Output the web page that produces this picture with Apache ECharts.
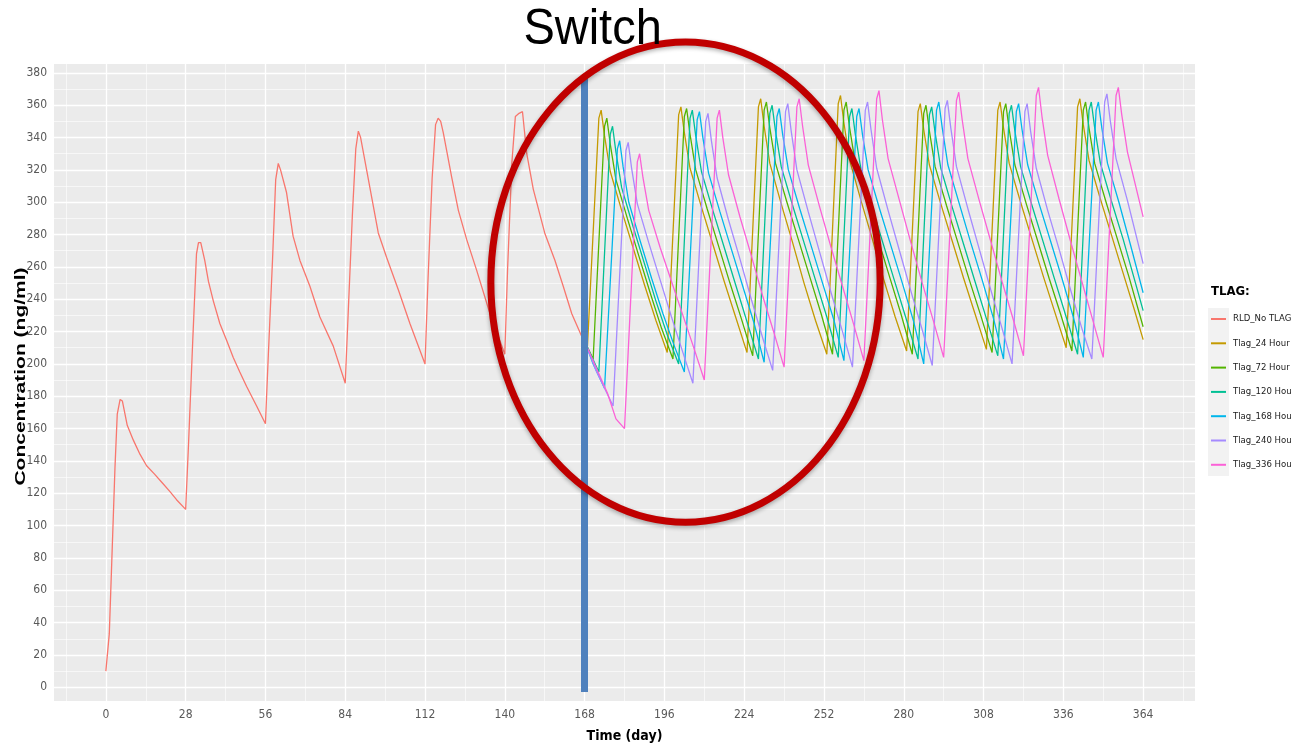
<!DOCTYPE html>
<html>
<head>
<meta charset="utf-8">
<title>TLAG switch</title>
<script src="https://cdn.jsdelivr.net/npm/echarts@6.0.0/dist/echarts.min.js"></script>
<style>
html, body { margin: 0; padding: 0; background: #fff; }
#main { width: 1291px; height: 749px; }
</style>
</head>
<body>
<div id="main"></div>
<script>
// ticks and grid lines
var xMajor = [0, 28, 56, 84, 112, 140, 168, 196, 224, 252, 280, 308, 336, 364];
var xMinor = [-14, 14, 42, 70, 98, 126, 154, 182, 210, 238, 266, 294, 322, 350, 378];
var yMajor = [0, 20, 40, 60, 80, 100, 120, 140, 160, 180, 200, 220, 240, 260, 280, 300, 320, 340, 360, 380];
var yMinor = [10, 30, 50, 70, 90, 110, 130, 150, 170, 190, 210, 230, 250, 270, 290, 310, 330, 350, 370];

var seriesNames = ['RLD_No TLAG', 'Tlag_24 Hour', 'Tlag_72 Hour', 'Tlag_120 Hour', 'Tlag_168 Hour', 'Tlag_240 Hour', 'Tlag_336 Hour'];

// [day, ng/ml]
var rld = [
  [0,10],[1.2,33],[2,74],[3.2,136],[4,169],[5,178],[5.8,177],[7.5,162],[9.6,153],[12,144],[14.3,137],[17,132],[20,126],[22.5,121],[24.8,116],[28,110],
  [29,150],[30.5,215],[31.8,268],[32.5,275],[33.3,275],[34.7,264],[36,251],[37.7,239],[40,225],[42.5,214],[44.7,204],[47,195],[49.4,186],[52.9,174],[56,163],
  [57,205],[58.5,265],[59.6,314],[60.5,324],[61.3,320],[63.4,306],[65.7,279],[68.1,264],[71.6,248],[75.1,229],[79.8,211],[84,188],
  [85,230],[86.5,292],[87.7,333],[88.6,344],[89.4,340],[91.5,320],[95.6,281],[98.5,266],[102.6,246],[106.7,225],[112,200],
  [113,250],[114.5,315],[115.7,348],[116.6,352],[117.5,350],[118.4,343],[121.3,316],[123.7,295],[126.6,277],[130.1,258],[134.8,231],[140,206],
  [141,260],[142.5,325],[143.7,353],[145,355],[146.2,356],[147.7,330],[150,308],[154,281],[157.6,264],[160.5,248],[163.5,231],[168,213]
];

var tlag24 = [
  [168,214],[169,211],
  [173,352],[173.8,357],[175,341],[177,319],[181,295],[185,272],[189,249],[193,227],
  [197,207],[201,354],[201.8,359],[203,343],[205,321],[209,297],[213,274],[217,251],[221,229],
  [225,207],[229,359],[229.8,364],[231,347],[233,324],[237,299],[241,275],[245,250],[249,227],
  [253,206],[257,361],[257.8,366],[259,349],[261,326],[265,301],[269,277],[273,252],[277,229],
  [281,208],[285,356],[285.8,361],[287,345],[289,323],[293,299],[297,276],[301,253],[305,231],
  [309,209],[313,357],[313.8,362],[315,346],[317,324],[321,300],[325,277],[329,254],[333,232],
  [337,210],[341,359],[341.8,364],[343,348],[345,326],[349,302],[353,279],[357,256],[361,233],[364,215]
];

var tlag72 = [
  [168,214],[171,203],
  [175,347],[175.8,352],[177,336],[179,314],[183,290],[187,267],[191,244],[195,222],
  [199,203],[203,353],[203.8,358],[205,342],[207,320],[211,296],[215,273],[219,250],[223,228],
  [227,205],[231,357],[231.8,362],[233,346],[235,324],[239,300],[243,277],[247,254],[251,231],
  [255,206],[259,357],[259.8,362],[261,346],[263,324],[267,300],[271,277],[275,254],[279,231],
  [283,206],[287,355],[287.8,360],[289,344],[291,322],[295,298],[299,275],[303,252],[307,230],
  [311,207],[315,356],[315.8,361],[317,345],[319,323],[323,299],[327,276],[331,253],[335,231],
  [339,208],[343,357],[343.8,362],[345,346],[347,324],[351,300],[355,277],[359,254],[364,223]
];

var tlag120 = [
  [168,214],[173,195],
  [177,342],[177.8,347],[179,331],[181,309],[185,285],[189,262],[193,239],[197,218],
  [201,200],[205,352],[205.8,357],[207,341],[209,319],[213,295],[217,272],[221,249],[225,226],
  [229,203],[233,355],[233.8,360],[235,344],[237,322],[241,298],[245,275],[249,252],[253,229],
  [257,204],[261,353],[261.8,358],[263,342],[265,320],[269,296],[273,273],[277,250],[281,227],
  [285,203],[289,354],[289.8,359],[291,343],[293,321],[297,297],[301,274],[305,251],[309,228],
  [313,205],[317,355],[317.8,360],[319,344],[321,322],[325,298],[329,275],[333,252],[337,229],
  [341,206],[345,357],[345.8,362],[347,346],[349,324],[353,300],[357,277],[361,252],[364,233]
];

var tlag168 = [
  [168,214],[171,200],[175,185],
  [179.5,333],[180.3,338],[181.5,322],[183.5,300],[187.5,276],[191.5,253],[195.5,231],[199.5,211],
  [203,195],[207.5,351],[208.3,356],[209.5,340],[211.5,318],[215.5,294],[219.5,271],[223.5,248],[227.5,225],
  [231,201],[235.5,353],[236.3,358],[237.5,342],[239.5,320],[243.5,296],[247.5,273],[251.5,250],[255.5,227],
  [259,202],[263.5,353],[264.3,358],[265.5,342],[267.5,320],[271.5,296],[275.5,273],[279.5,250],[283.5,226],
  [287,200],[291.5,357],[292.3,362],[293.5,346],[295.5,323],[299.5,299],[303.5,275],[307.5,252],[311.5,228],
  [315,203],[319.5,356],[320.3,361],[321.5,345],[323.5,323],[327.5,299],[331.5,276],[335.5,253],[339.5,229],
  [343,204],[347.5,357],[348.3,362],[349.5,346],[351.5,324],[355.5,300],[359.5,274],[364,244]
];

var tlag240 = [
  [168,214],[172,196],[178,174],
  [182.5,332],[183.3,337],[184.5,321],[186.5,299],[190.5,275],[194.5,252],[198.5,229],[202.5,207],
  [206,188],[210.5,350],[211.3,355],[212.5,338],[214.5,315],[218.5,289],[222.5,265],[226.5,240],[230.5,216],
  [234,196],[238.5,356],[239.3,361],[240.5,344],[242.5,320],[246.5,294],[250.5,269],[254.5,244],[258.5,220],
  [262,198],[266.5,357],[267.3,362],[268.5,345],[270.5,321],[274.5,295],[278.5,270],[282.5,245],[286.5,221],
  [290,199],[294.5,358],[295.3,363],[296.5,346],[298.5,322],[302.5,296],[306.5,271],[310.5,246],[314.5,222],
  [318,200],[322.5,356],[323.3,361],[324.5,344],[326.5,321],[330.5,295],[334.5,271],[338.5,246],[342.5,222],
  [346,203],[350.5,362],[351.3,367],[352.5,350],[354.5,327],[358.5,301],[364,262]
];

var tlag336 = [
  [168,214],[172,198],[176,182],[179,166],[182,160],
  [186.5,325],[187.3,330],[188.5,315],[190.5,295],[194.5,272],[198.5,251],[202.5,230],[206.5,209],
  [210,190],[214.5,352],[215.3,357],[216.5,340],[218.5,317],[222.5,291],[226.5,267],[230.5,242],[234.5,219],
  [238,198],[242.5,359],[243.3,364],[244.5,347],[246.5,323],[250.5,297],[254.5,272],[258.5,248],[262.5,224],
  [266,202],[270.5,364],[271.3,369],[272.5,351],[274.5,327],[278.5,301],[282.5,275],[286.5,250],[290.5,226],
  [294,204],[298.5,363],[299.3,368],[300.5,351],[302.5,327],[306.5,301],[310.5,276],[314.5,251],[318.5,227],
  [322,205],[326.5,366],[327.3,371],[328.5,353],[330.5,329],[334.5,302],[338.5,276],[342.5,251],[346.5,226],
  [350,204],[354.5,366],[355.3,371],[356.5,354],[358.5,331],[364,291]
];

var seriesData = [rld, tlag24, tlag72, tlag120, tlag168, tlag240, tlag336];
var colors = ['#F8766D', '#C49A00', '#53B400', '#00C094', '#00B6EB', '#A58AFF', '#FB61D7'];

// annotation: switch day and highlighted region (data units)
var switchDay = 168;
var switchSpan = [-3, 377];
var circleCenter = [203.4, 250.6];
var circleRadius = [68.3, 148.5];

var NARROW = "'Liberation Sans Narrow','Arial Narrow','DejaVu Sans Condensed',sans-serif";
var SANS = "'Liberation Sans',Arial,sans-serif";

var gridLines = [];
yMajor.forEach(function (v) { gridLines.push({ yAxis: v, lineStyle: { width: 1.3 } }); });
yMinor.forEach(function (v) { gridLines.push({ yAxis: v, lineStyle: { width: 0.6 } }); });
xMajor.forEach(function (v) { gridLines.push({ xAxis: v, lineStyle: { width: 1.3 } }); });
xMinor.forEach(function (v) { gridLines.push({ xAxis: v, lineStyle: { width: 0.6 } }); });

var series = [{
  name: 'grid',
  type: 'line',
  data: [],
  z: 1,
  silent: true,
  markLine: {
    z: 1,
    silent: true,
    animation: false,
    symbol: ['none', 'none'],
    label: { show: false },
    emphasis: { disabled: true },
    lineStyle: { color: '#ffffff', type: 'solid' },
    data: gridLines
  }
}];

for (var i = 0; i < seriesNames.length; i++) {
  series.push({
    name: seriesNames[i],
    type: 'line',
    data: seriesData[i],
    symbol: 'none',
    z: 2 + i,
    lineStyle: { width: 1.3, color: colors[i] },
    itemStyle: { color: colors[i] }
  });
}

series.push({
  name: 'switch',
  type: 'line',
  data: [],
  z: 20,
  markLine: {
    z: 20,
    silent: true,
    animation: false,
    symbol: ['none', 'none'],
    label: { show: false },
    lineStyle: { color: '#4F81BD', width: 7, type: 'solid' },
    data: [[{ coord: [switchDay, switchSpan[0]] }, { coord: [switchDay, switchSpan[1]] }]]
  }
});

var chart = echarts.init(document.getElementById('main'));
var option = {
  animation: false,
  backgroundColor: '#ffffff',
  title: {
    text: 'TLAG:',
    left: 1211,
    top: 285,
    padding: 0,
    textStyle: { fontFamily: NARROW, fontSize: 13, fontWeight: 'bold', color: '#000' }
  },
  legend: {
    data: seriesNames,
    orient: 'vertical',
    left: 1211,
    top: 312,
    padding: 0,
    icon: 'rect',
    itemWidth: 15,
    itemHeight: 2,
    itemGap: 10.3,
    textStyle: { fontFamily: NARROW, fontSize: 9.5, lineHeight: 14, color: '#1a1a1a', padding: [0, 0, 0, 2] }
  },
  grid: {
    left: 54, right: 96, top: 64, bottom: 48,
    show: true, backgroundColor: '#EBEBEB', borderWidth: 0
  },
  xAxis: {
    type: 'value',
    min: -18.2,
    max: 382.2,
    name: 'Time (day)',
    nameLocation: 'middle',
    nameGap: 28,
    nameTextStyle: { fontFamily: NARROW, fontSize: 14, fontWeight: 'bold', color: '#000' },
    axisLine: { show: false },
    axisTick: { show: true, length: 4, customValues: xMajor, lineStyle: { color: '#333' } },
    axisLabel: { customValues: xMajor, margin: 8, fontFamily: NARROW, fontSize: 12, color: '#595959' },
    splitLine: { show: false }
  },
  yAxis: {
    type: 'value',
    min: -8.5,
    max: 385.5,
    axisLine: { show: false },
    axisTick: { show: true, length: 4, customValues: yMajor, lineStyle: { color: '#333' } },
    axisLabel: { customValues: yMajor, margin: 7, fontFamily: NARROW, fontSize: 12, color: '#595959' },
    splitLine: { show: false }
  },
  series: series
};
chart.setOption(option);

// annotations placed from data coordinates
var center = chart.convertToPixel({ gridIndex: 0 }, circleCenter);
var edge = chart.convertToPixel({ gridIndex: 0 }, [circleCenter[0] + circleRadius[0], circleCenter[1] - circleRadius[1]]);
var switchTop = chart.convertToPixel({ gridIndex: 0 }, [switchDay, switchSpan[1]]);
var plotTop = chart.convertToPixel({ gridIndex: 0 }, [0, 385.5]);
var plotMid = chart.convertToPixel({ gridIndex: 0 }, [(-18.2 + 382.2) / 2, (-8.5 + 385.5) / 2]);

chart.setOption({
  graphic: [
    {
      type: 'rect', z: 0, silent: true,
      shape: { x: 1208, y: 308, width: 21, height: 168 },
      style: { fill: '#F2F2F2' }
    },
    {
      type: 'ellipse', z: 100, silent: true,
      shape: { cx: center[0], cy: center[1], rx: edge[0] - center[0], ry: edge[1] - center[1] },
      style: { fill: 'none', stroke: '#C00000', lineWidth: 7, shadowBlur: 4, shadowColor: 'rgba(0,0,0,0.3)', shadowOffsetY: 2 }
    },
    {
      type: 'text', z: 100, silent: true,
      x: switchTop[0] + 8, y: plotTop[1] - 34, scaleY: 1.06,
      style: { text: 'Switch', font: '47px ' + SANS, fill: '#000', align: 'center', verticalAlign: 'middle' }
    },
    {
      type: 'text', z: 100, silent: true,
      x: 21, y: plotMid[1] - 6, rotation: Math.PI / 2, scaleX: 1.4,
      style: { text: 'Concentration (ng/ml)', font: 'bold 15px ' + SANS, fill: '#000', align: 'center', verticalAlign: 'middle' }
    }
  ]
});
</script>
</body>
</html>
